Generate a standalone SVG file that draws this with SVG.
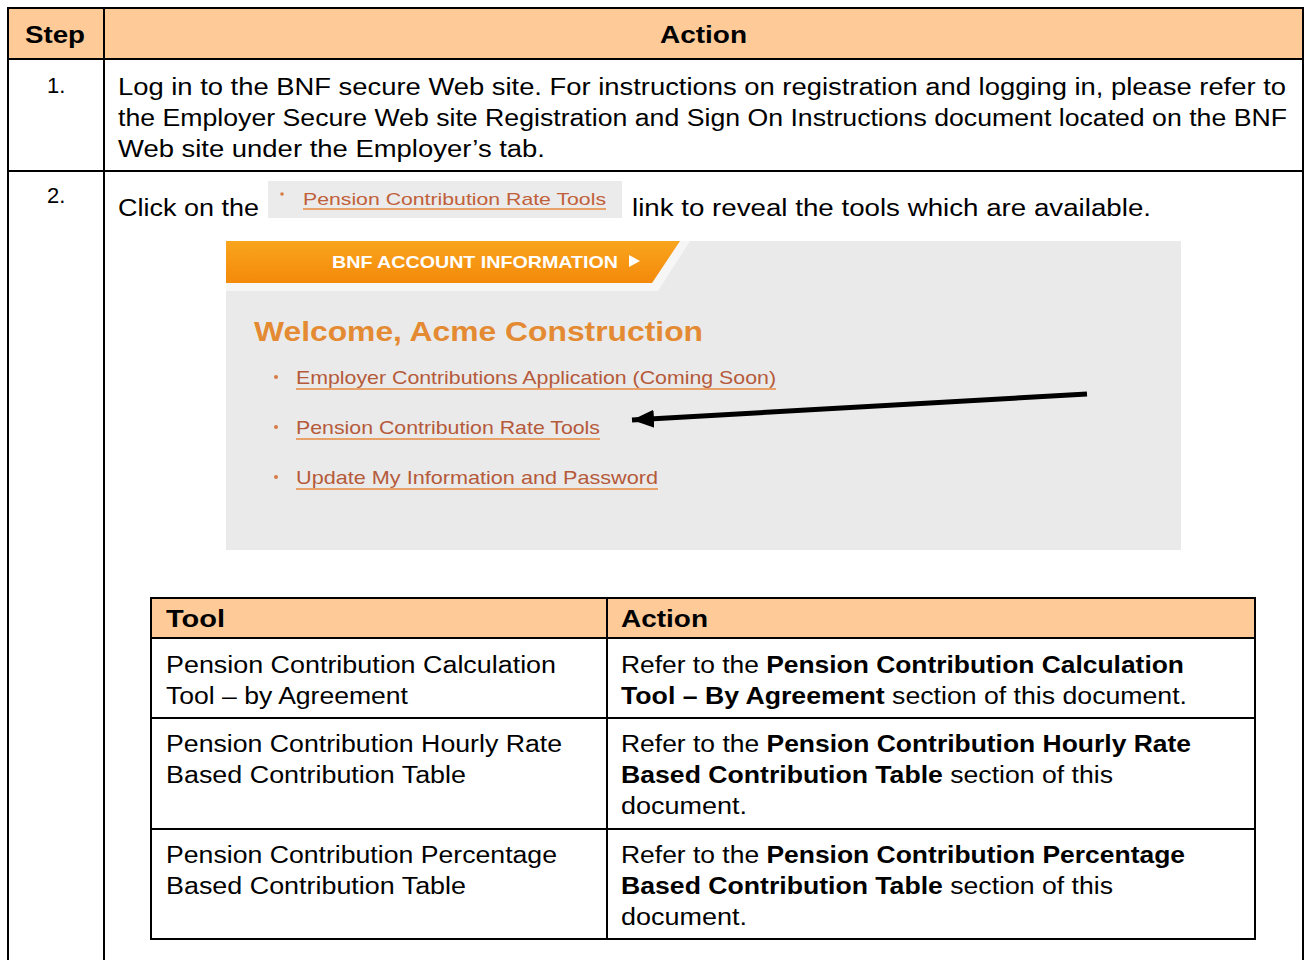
<svg xmlns="http://www.w3.org/2000/svg" width="1306" height="960" viewBox="0 0 1306 960">
<style>
.t{font-family:"Liberation Sans",Arial,sans-serif;font-size:23px;fill:#000}
.b{font-weight:bold}
.g{stroke:#000;stroke-width:2;fill:none}
.hd{fill:#FECB98}
.num{font-family:"Liberation Sans",Arial,sans-serif;font-size:22px;fill:#000}
.lnk{font-family:"Liberation Sans",Arial,sans-serif;font-size:19px;fill:#B55A3A}
.ul{stroke:#E8893F;stroke-width:1.5}
.dot{fill:#D77A45}
</style>
<defs>
<linearGradient id="tab" x1="0" y1="0" x2="0" y2="1">
<stop offset="0" stop-color="#F9A51E"/>
<stop offset="1" stop-color="#F4890A"/>
</linearGradient>
<marker id="ah" markerUnits="userSpaceOnUse" markerWidth="24" markerHeight="20" refX="22" refY="10" orient="auto">
<path d="M0,1 L22,10 L0,19 z" fill="#000"/>
</marker>
</defs>
<rect width="1306" height="960" fill="#fff"/>

<g id="outer-table">
<rect class="hd" x="8" y="8" width="1295" height="51"/>
<line class="g" x1="7" y1="8" x2="1304" y2="8"/>
<line class="g" x1="7" y1="59" x2="1304" y2="59"/>
<line class="g" x1="7" y1="171" x2="1304" y2="171"/>
<line class="g" x1="8" y1="7" x2="8" y2="960"/>
<line class="g" x1="104" y1="7" x2="104" y2="960"/>
<line class="g" x1="1303" y1="7" x2="1303" y2="960"/>
<text class="t b" x="25" y="43" textLength="60" lengthAdjust="spacingAndGlyphs">Step</text>
<text class="t b" x="660" y="43" textLength="87" lengthAdjust="spacingAndGlyphs">Action</text>
</g>

<g id="step1">
<text class="num" x="47" y="93">1.</text>
<text class="t" x="118" y="95" textLength="1168" lengthAdjust="spacingAndGlyphs">Log in to the BNF secure Web site.  For instructions on registration and logging in, please refer to</text>
<text class="t" x="118" y="126" textLength="1169" lengthAdjust="spacingAndGlyphs">the Employer Secure Web site Registration and Sign On Instructions document located on the BNF</text>
<text class="t" x="118" y="157" textLength="427" lengthAdjust="spacingAndGlyphs">Web site under the Employer’s tab.</text>
</g>

<g id="step2">
<text class="num" x="47" y="203">2.</text>
<text class="t" x="118" y="216" textLength="141" lengthAdjust="spacingAndGlyphs">Click on the</text>
<rect x="268" y="181" width="354" height="37" fill="#EBEBEB"/>
<circle class="dot" cx="282" cy="194" r="1.8"/>
<text x="303" y="205" style="font-family:'Liberation Sans',Arial,sans-serif;font-size:17px;fill:#C0603A" textLength="303" lengthAdjust="spacingAndGlyphs">Pension Contribution Rate Tools</text>
<line class="ul" x1="303" y1="209" x2="606" y2="209"/>
<text class="t" x="632" y="216" textLength="519" lengthAdjust="spacingAndGlyphs">link to reveal the tools which are available.</text>
</g>

<g id="screenshot">
<rect x="226" y="241" width="955" height="309" fill="#EAEAEA"/>
<polygon points="226,283 652,283 680,241 690,241 658,291 226,291" fill="#F6F6F6"/>
<polygon points="226,241 680,241 652,283 226,283" fill="url(#tab)"/>
<text x="332" y="268" style="font-family:'Liberation Sans',Arial,sans-serif;font-size:17px;font-weight:bold;fill:#fff" textLength="286" lengthAdjust="spacingAndGlyphs">BNF ACCOUNT INFORMATION</text>
<polygon points="629,255 640,261 629,267" fill="#fff"/>
<text x="254" y="341" style="font-family:'Liberation Sans',Arial,sans-serif;font-size:28px;font-weight:bold;fill:#E38A33" textLength="449" lengthAdjust="spacingAndGlyphs">Welcome, Acme Construction</text>
<circle class="dot" cx="276" cy="377" r="2"/>
<text class="lnk" x="296" y="384" textLength="480" lengthAdjust="spacingAndGlyphs">Employer Contributions Application (Coming Soon)</text>
<line class="ul" x1="296" y1="389" x2="776" y2="389"/>
<circle class="dot" cx="276" cy="427" r="2"/>
<text class="lnk" x="296" y="434" textLength="304" lengthAdjust="spacingAndGlyphs">Pension Contribution Rate Tools</text>
<line class="ul" x1="296" y1="439" x2="600" y2="439"/>
<circle class="dot" cx="276" cy="477" r="2"/>
<text class="lnk" x="296" y="484" textLength="362" lengthAdjust="spacingAndGlyphs">Update My Information and Password</text>
<line class="ul" x1="296" y1="489" x2="658" y2="489"/>
</g>

<g id="connectors">
<line x1="1087" y1="394" x2="632" y2="420" stroke="#000" stroke-width="5" marker-end="url(#ah)"/>
</g>

<g id="tool-table">
<rect class="hd" x="151" y="598" width="1104" height="40"/>
<rect class="g" x="151" y="598" width="1104" height="341"/>
<line class="g" x1="151" y1="638" x2="1255" y2="638"/>
<line class="g" x1="151" y1="718" x2="1255" y2="718"/>
<line class="g" x1="151" y1="829" x2="1255" y2="829"/>
<line class="g" x1="607" y1="598" x2="607" y2="939"/>
<text class="t b" x="166" y="627" textLength="59" lengthAdjust="spacingAndGlyphs">Tool</text>
<text class="t b" x="621" y="627" textLength="87" lengthAdjust="spacingAndGlyphs">Action</text>

<text class="t" x="166" y="673" textLength="390" lengthAdjust="spacingAndGlyphs">Pension Contribution Calculation</text>
<text class="t" x="166" y="704" textLength="242" lengthAdjust="spacingAndGlyphs">Tool – by Agreement</text>
<text class="t" x="621" y="673" textLength="563" lengthAdjust="spacingAndGlyphs">Refer to the <tspan class="b">Pension Contribution Calculation</tspan></text>
<text class="t" x="621" y="704" textLength="566" lengthAdjust="spacingAndGlyphs"><tspan class="b">Tool – By Agreement</tspan> section of this document.</text>

<text class="t" x="166" y="752" textLength="396" lengthAdjust="spacingAndGlyphs">Pension Contribution Hourly Rate</text>
<text class="t" x="166" y="783" textLength="300" lengthAdjust="spacingAndGlyphs">Based Contribution Table</text>
<text class="t" x="621" y="752" textLength="570" lengthAdjust="spacingAndGlyphs">Refer to the <tspan class="b">Pension Contribution Hourly Rate</tspan></text>
<text class="t" x="621" y="783" textLength="492" lengthAdjust="spacingAndGlyphs"><tspan class="b">Based Contribution Table</tspan> section of this</text>
<text class="t" x="621" y="814" textLength="126" lengthAdjust="spacingAndGlyphs">document.</text>

<text class="t" x="166" y="863" textLength="391" lengthAdjust="spacingAndGlyphs">Pension Contribution Percentage</text>
<text class="t" x="166" y="894" textLength="300" lengthAdjust="spacingAndGlyphs">Based Contribution Table</text>
<text class="t" x="621" y="863" textLength="564" lengthAdjust="spacingAndGlyphs">Refer to the <tspan class="b">Pension Contribution Percentage</tspan></text>
<text class="t" x="621" y="894" textLength="492" lengthAdjust="spacingAndGlyphs"><tspan class="b">Based Contribution Table</tspan> section of this</text>
<text class="t" x="621" y="925" textLength="126" lengthAdjust="spacingAndGlyphs">document.</text>
</g>
</svg>
